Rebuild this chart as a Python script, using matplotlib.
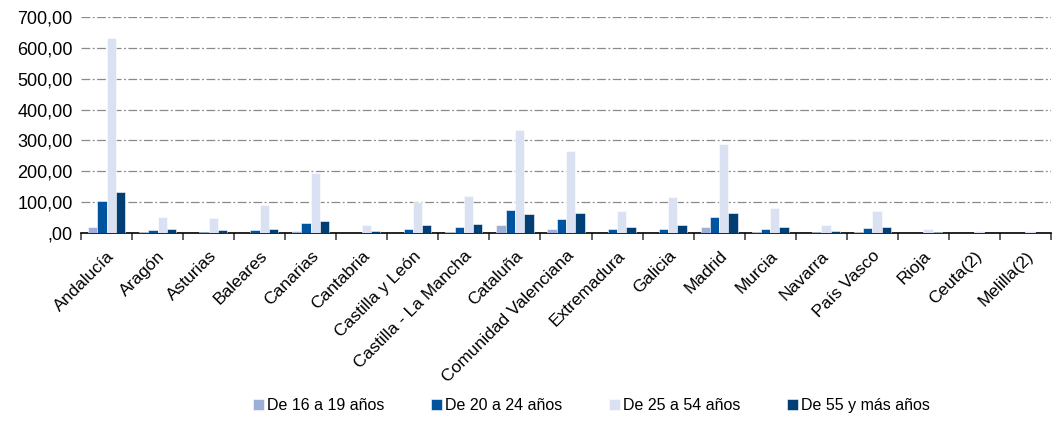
import numpy as np
import matplotlib
matplotlib.use('Agg')
import matplotlib.pyplot as plt
from matplotlib.ticker import FuncFormatter, FixedLocator

plt.rcParams['font.family'] = ['Liberation Sans', 'DejaVu Sans']

regions = ["Andalucía", "Aragón", "Asturias", "Baleares", "Canarias", "Cantabria",
           "Castilla y León", "Castilla - La Mancha", "Cataluña", "Comunidad Valenciana",
           "Extremadura", "Galicia", "Madrid", "Murcia", "Navarra", "País Vasco",
           "Rioja", "Ceuta(2)", "Melilla(2)"]
series_names = ["De 16 a 19 años", "De 20 a 24 años", "De 25 a 54 años", "De 55 y más años"]

age_16_19 = [18, 3, 1, 1, 5, 1, 1, 2, 25, 14, 1, 1, 19, 4, 0, 3, 1, 1, 0]
age_20_24 = [103, 10, 4, 10, 33, 1, 14, 20, 75, 46, 13, 13, 52, 14, 4, 16, 0, 0, 0]
age_25_54 = [632, 52, 47, 92, 193, 24, 99, 119, 335, 266, 71, 117, 289, 82, 24, 71, 12, 5, 5]
age_55_mas = [132, 12, 9, 12, 39, 5, 24, 29, 62, 66, 20, 25, 66, 19, 7, 18, 3, 0, 0]

colors = ["#9dafd8", "#00549f", "#d9e1f2", "#003e73"]

fig = plt.figure(figsize=(10.52, 4.25), dpi=100)
ax = fig.add_axes([0.077, 0.452, 0.922, 0.508])

x = np.arange(len(regions))
width = 0.182
data = [age_16_19, age_20_24, age_25_54, age_55_mas]
for i, (vals, col, name) in enumerate(zip(data, colors, series_names)):
    ax.bar(x + (i - 1.5) * width, vals, width, color=col, label=name,
           edgecolor="white", linewidth=0.4, zorder=3)

ax.set_xlim(-0.5, len(regions) - 0.5)
ax.set_ylim(0, 700)
ax.set_yticks(np.arange(0, 701, 100))
ax.yaxis.set_major_formatter(FuncFormatter(
    lambda v, p: ",00" if v == 0 else f"{int(v)},00"))
ax.tick_params(axis="y", length=0, labelsize=13, pad=6)

# category labels at centres, tick marks at group boundaries
ax.set_xticks(x)
ax.set_xticklabels(regions, rotation=45, ha="right", rotation_mode="anchor", fontsize=12.5)
ax.tick_params(axis="x", which="major", length=0, pad=11)
ax.xaxis.set_minor_locator(FixedLocator(np.arange(-0.5, len(regions), 1)))
ax.tick_params(axis="x", which="minor", length=5, width=1.2, color="#444444", direction="out")

ax.yaxis.grid(True, color="#8a8a8a", linestyle=(0, (7, 2, 1.5, 2)), linewidth=0.9, zorder=0)
ax.set_axisbelow(True)
for side in ["left", "right", "top"]:
    ax.spines[side].set_visible(False)
ax.spines["bottom"].set_color("black")
ax.spines["bottom"].set_linewidth(1.2)

fig.legend(loc="lower center", bbox_to_anchor=(0.562, -0.005), ncol=4, frameon=False,
           fontsize=11.5, handlelength=0.7, handleheight=0.7, handletextpad=0.2,
           columnspacing=2.9)

fig.savefig("out.png", dpi=100)
